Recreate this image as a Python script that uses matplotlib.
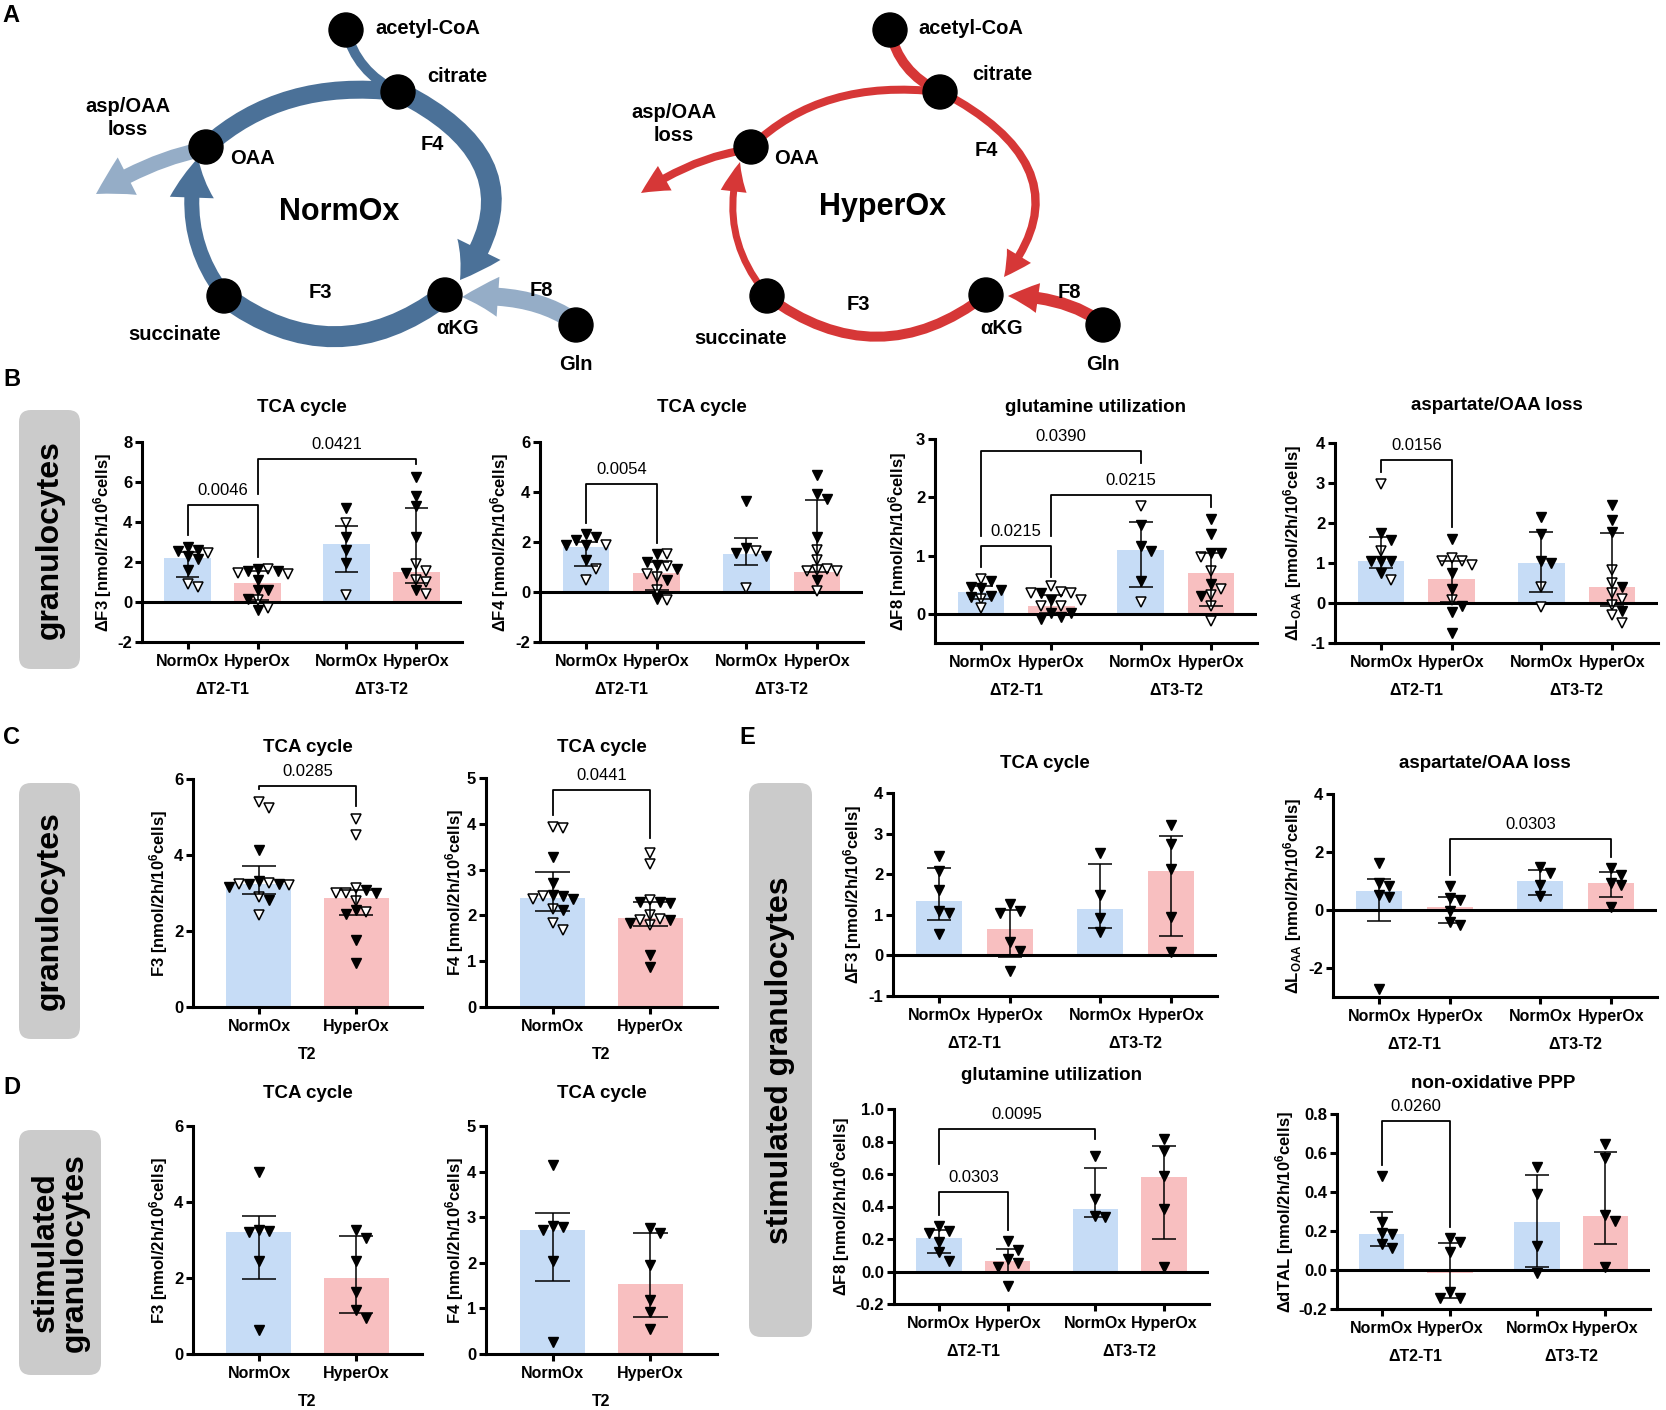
import matplotlib
matplotlib.use('Agg')
import matplotlib.pyplot as plt
from matplotlib.patches import FancyArrowPatch, PathPatch, Circle, FancyBboxPatch, ArrowStyle
from matplotlib.path import Path

plt.rcParams['font.family'] = ['Liberation Sans', 'DejaVu Sans']
plt.rcParams['mathtext.default'] = 'regular'

W, H = 1666, 1410
BLUE = '#c6dcf6'
PINK = '#f8bfc0'
STEEL = '#4b7198'
LIGHT = '#95adc7'
RED = '#d63737'

# ---------------- data ----------------
x4 = [0, 1, 2.27, 3.27]
x2 = [0, 1]
xlab4 = ['NormOx', 'HyperOx', 'NormOx', 'HyperOx']
xlab2 = ['NormOx', 'HyperOx']
grp4 = ['ΔT2-T1', 'ΔT3-T2']
grp2 = ['T2']

# B: granulocytes, differences
b1_bar = [2.2, 0.97, 2.92, 1.5]
b1_lo = [1.25, 0.1, 1.5, 0.95]
b1_hi = [2.5, 1.55, 3.78, 4.72]
b1_filled = [[2.6, 2.55, 2.75, 2.3, 2.15, 1.6], [1.67, 1.55, 1.55, 1.08, 0.6, 0.58, 0.17, -0.38],
             [4.7, 3.25, 2.6, 1.95], [6.25, 5.28, 4.78, 3.25, 1.45, 0.62]]
b1_open = [[2.45, 0.75, 0.92], [1.45, 1.42, 1.67, 0.12, -0.28], [3.95, 0.33], [1.88, 1.55, 1.12, 1.0, 0.42]]
b1_sig = [(0, 1, 4.83, 3.33, 2.25, '0.0046'), (1, 3, 7.17, 5.42, 6.92, '0.0421')]

b2_bar = [1.8, 0.76, 1.53, 0.8]
b2_lo = [1.03, 0.1, 1.07, 0.82]
b2_hi = [2.0, 1.2, 2.17, 3.69]
b2_filled = [[2.33, 2.2, 2.1, 1.9, 1.87, 1.27], [1.53, 1.2, 1.07, 0.93, 0.47, -0.27],
             [3.64, 1.77, 1.56, 1.43], [4.69, 3.93, 3.73, 2.2, 0.47]]
b2_open = [[1.9, 0.93, 0.5], [1.53, 1.03, 0.73, 0.6, 0.09, -0.33], [1.64, 0.16],
           [1.67, 1.27, 0.93, 0.84, 0.87, 0.84, 0.04]]
b2_sig = [(0, 1, 4.31, 2.76, 1.97, '0.0054')]

b3_bar = [0.38, 0.14, 1.1, 0.7]
b3_lo = [0.26, 0.02, 0.46, 0.13]
b3_hi = [0.47, 0.33, 1.57, 1.04]
b3_filled = [[0.56, 0.46, 0.44, 0.41, 0.3, 0.29], [0.35, 0.23, 0.01, 0.01, -0.06, -0.09],
             [1.52, 1.16, 1.07, 0.56], [1.63, 1.37, 1.05, 1.04, 0.52, 0.3]]
b3_open = [[0.6, 0.26, 0.1], [0.47, 0.38, 0.35, 0.35, 0.23, 0.14, 0.13], [1.85, 0.21],
           [0.98, 0.73, 0.42, 0.33, 0.14, -0.13]]
b3_sig = [(0, 1, 1.16, 0.81, 0.64, '0.0215'), (0, 2, 2.79, 1.33, 2.59, '0.0390'),
          (1, 3, 2.04, 1.33, 1.84, '0.0215')]

b4_bar = [1.05, 0.6, 1.0, 0.39]
b4_lo = [0.87, 0.02, 0.27, -0.08]
b4_hi = [1.66, 1.04, 1.78, 1.74]
b4_filled = [[1.74, 1.58, 1.04, 1.04, 1.04, 0.76], [1.59, 0.75, 0.35, -0.08, -0.23, -0.75],
             [2.16, 1.73, 1.05, 1.0], [2.46, 2.07, 1.78, 0.41, -0.21]]
b4_open = [[2.97, 1.29, 0.58], [1.12, 1.04, 1.04, 0.95, 0.07], [0.41, -0.11],
           [0.83, 0.51, 0.25, 0.1, -0.04, -0.29, -0.5]]
b4_sig = [(0, 1, 3.57, 3.28, 1.91, '0.0156')]

# C: granulocytes at T2
c1_bar = [3.23, 2.88]
c1_lo = [2.97, 2.42]
c1_hi = [3.72, 3.08]
c1_filled = [[4.13, 3.32, 3.25, 3.25, 3.17, 2.82], [3.08, 2.99, 2.55, 2.44, 1.76, 1.15]]
c1_open = [[5.4, 5.23, 3.27, 3.25, 3.21, 2.9, 2.42], [4.96, 4.53, 3.14, 3.01, 2.99, 2.8, 2.49]]
c1_sig = [(0, 1, 5.82, 5.73, 5.29, '0.0285')]

c2_bar = [2.39, 1.95]
c2_lo = [2.1, 1.77]
c2_hi = [2.94, 2.3]
c2_filled = [[3.28, 2.7, 2.44, 2.42, 2.35, 2.11], [2.3, 2.3, 2.27, 1.9, 1.84, 1.13, 0.88]]
c2_open = [[3.93, 3.91, 2.42, 2.35, 2.13, 1.84, 1.69], [3.36, 3.12, 2.33, 2.0, 1.93, 1.91, 1.79]]
c2_sig = [(0, 1, 4.73, 4.2, 3.68, '0.0441')]

# D: stimulated granulocytes at T2
d1_bar = [3.2, 2.0]
d1_lo = [1.97, 1.09]
d1_hi = [3.63, 3.1]
d1_filled = [[4.79, 3.26, 3.25, 3.22, 2.46, 0.62], [3.26, 3.06, 2.45, 1.62, 1.16, 0.96]]

d2_bar = [2.73, 1.54]
d2_lo = [1.59, 0.82]
d2_hi = [3.1, 2.66]
d2_filled = [[4.14, 2.81, 2.78, 2.73, 2.05, 0.26], [2.76, 2.65, 1.95, 1.19, 0.93, 0.55]]

# E: stimulated granulocytes, differences
e1_bar = [1.34, 0.65, 1.15, 2.09]
e1_lo = [0.88, -0.04, 0.68, 0.48]
e1_hi = [2.16, 1.11, 2.25, 2.94]
e1_filled = [[2.45, 2.08, 1.61, 1.1, 1.05, 0.52], [1.26, 1.1, 1.05, 0.33, 0.12, -0.39],
             [2.52, 1.49, 0.91, 0.58], [3.2, 2.74, 2.14, 0.95, 0.08]]

e2_bar = [0.67, 0.09, 1.0, 0.93]
e2_lo = [-0.37, -0.46, 0.53, 0.46]
e2_hi = [1.08, 0.46, 1.39, 1.3]
e2_filled = [[1.62, 0.92, 0.82, 0.53, 0.46, -2.71], [0.82, 0.42, 0.35, -0.02, -0.43, -0.52],
             [1.48, 1.29, 0.85, 0.5], [1.45, 1.19, 0.93, 0.85, 0.12]]
e2_sig = [(1, 3, 2.45, 1.19, 1.83, '0.0303')]

e3_bar = [0.205, 0.062, 0.384, 0.58]
e3_lo = [0.113, 0.0, 0.335, 0.2]
e3_hi = [0.253, 0.14, 0.64, 0.774]
e3_filled = [[0.28, 0.25, 0.24, 0.18, 0.12, 0.066], [0.185, 0.13, 0.075, 0.055, 0.027, -0.092],
             [0.71, 0.445, 0.343, 0.335], [0.815, 0.74, 0.585, 0.384, 0.027]]
e3_sig = [(0, 1, 0.487, 0.35, 0.253, '0.0303'), (0, 2, 0.879, 0.663, 0.817, '0.0095')]

e4_bar = [0.183, -0.014, 0.245, 0.278]
e4_lo = [0.123, -0.142, 0.014, 0.132]
e4_hi = [0.3, 0.14, 0.485, 0.603]
e4_filled = [[0.483, 0.245, 0.188, 0.185, 0.132, 0.111], [0.166, 0.142, 0.094, -0.115, -0.142, -0.146],
             [0.526, 0.389, 0.125, -0.017], [0.646, 0.574, 0.283, 0.252, 0.017]]
e4_sig = [(0, 1, 0.762, 0.54, 0.223, '0.0260')]

UNIT = ' [nmol/2h/10$^6$cells]'

# ---------------- figure ----------------
fig = plt.figure(figsize=(W / 100, H / 100), dpi=100)
ov = fig.add_axes([0, 0, 1, 1])
ov.set_xlim(0, W)
ov.set_ylim(0, H)
ov.axis('off')


def fy(y):
    return H - y


def txt(x, y, s, **kw):
    kw.setdefault('ha', 'center')
    kw.setdefault('va', 'center')
    ov.text(x, fy(y), s, **kw)


def swarm(ax, x0, fvals, ovals, step=10.0, hgt=9.0):
    pts = [(v, True) for v in fvals] + [(v, False) for v in ovals]
    pts.sort(key=lambda p: -p[0])
    ppu = ax.transData.transform((1, 0))[0] - ax.transData.transform((0, 0))[0]
    placed = []
    res = []
    for v, f in pts:
        yp = ax.transData.transform((x0, v))[1]
        for k in [0, 1, -1, 2, -2, 3, -3, 4, -4, 5, -5, 6, -6]:
            if all(abs(k - pk) >= 1 or abs(yp - py) >= hgt for pk, py in placed):
                break
        placed.append((k, yp))
        res.append((x0 + k * step / ppu, v, f))
    return res


def panel(box, ylim, yticks, yfmt, pos, xlabels, groups, bars, lo, hi, filled, opened, sig,
          title, title_xy, ylabel, ylabel_x, xlim, bw, cap):
    l, t, r, b = box
    ax = fig.add_axes([l / W, 1 - b / H, (r - l) / W, (b - t) / H])
    ax.patch.set_alpha(0)
    ax.set_xlim(*xlim)
    ax.set_ylim(*ylim)
    cols = [BLUE, PINK] * (len(pos) // 2)
    ax.bar(pos, bars, width=bw, color=cols, zorder=1)
    if ylim[0] < 0:
        ax.axhline(0, color='k', lw=2.2, zorder=2)
    for i, x0 in enumerate(pos):
        op = opened[i] if opened else []
        for x, v, f in swarm(ax, x0, filled[i], op):
            if f:
                ax.plot(x, v, 'v', ms=6.5, color='k', zorder=3)
            else:
                ax.plot(x, v, 'v', ms=6.5, mfc='white', mec='k', mew=1.1, zorder=3)
    ax.vlines(pos, lo, hi, color='k', lw=1.1, zorder=4)
    ax.hlines(lo, [p - cap for p in pos], [p + cap for p in pos], color='k', lw=1.1, zorder=4)
    ax.hlines(hi, [p - cap for p in pos], [p + cap for p in pos], color='k', lw=1.1, zorder=4)
    for i, j, yt, yl, yr, lab in sig:
        ax.plot([pos[i], pos[i], pos[j], pos[j]], [yl, yt, yt, yr], color='k', lw=1.3, zorder=5)
        ax.annotate(lab, xy=((pos[i] + pos[j]) / 2, yt), xytext=(0, 10.5), textcoords='offset points',
                    ha='center', va='center', fontsize=12)
    for s in ['top', 'right']:
        ax.spines[s].set_visible(False)
    for s in ['left', 'bottom']:
        ax.spines[s].set_linewidth(2.2)
    ax.set_yticks(yticks, [yfmt.format(v) for v in yticks])
    ax.set_xticks(pos, xlabels)
    ax.tick_params(axis='y', width=2.2, length=5, labelsize=12, pad=2)
    ax.tick_params(axis='x', width=2.2, length=5, labelsize=11.5, pad=3.5)
    for lab in ax.get_xticklabels() + ax.get_yticklabels():
        lab.set_fontweight('bold')
    npg = len(pos) // len(groups)
    for g, name in enumerate(groups):
        gx = (pos[g * npg] + pos[g * npg + npg - 1]) / 2
        ax.annotate(name, xy=(gx, 0), xycoords=('data', 'axes fraction'), xytext=(0, -34),
                    textcoords='offset points', ha='center', va='center', fontsize=11.5, fontweight='bold')
    tx = title_xy[0] if title_xy[0] is not None else (l + r) / 2
    txt(tx, title_xy[1], title, fontsize=13.5, fontweight='bold')
    txt(ylabel_x, (t + b) / 2, ylabel, rotation=90, fontsize=12, fontweight='bold')
    return ax


X4 = (-0.65, 3.92)
X2 = (-0.68, 1.68)

panel((142, 442, 462, 642), (-2, 8), [-2, 0, 2, 4, 6, 8], '{:g}', x4, xlab4, grp4,
      b1_bar, b1_lo, b1_hi, b1_filled, b1_open, b1_sig, 'TCA cycle', (None, 408), 'ΔF3' + UNIT, 103, X4, 0.66, 0.17)
panel((540, 442, 863, 642), (-2, 6), [-2, 0, 2, 4, 6], '{:g}', x4, xlab4, grp4,
      b2_bar, b2_lo, b2_hi, b2_filled, b2_open, b2_sig, 'TCA cycle', (None, 408), 'ΔF4' + UNIT, 500, X4, 0.66, 0.17)
panel((935, 439, 1257, 643), (-0.5, 3), [0, 1, 2, 3], '{:g}', x4, xlab4, grp4,
      b3_bar, b3_lo, b3_hi, b3_filled, b3_open, b3_sig, 'glutamine utilization', (None, 407), 'ΔF8' + UNIT, 898, X4, 0.66, 0.17)
panel((1335, 443, 1658, 643), (-1, 4), [-1, 0, 1, 2, 3, 4], '{:g}', x4, xlab4, grp4,
      b4_bar, b4_lo, b4_hi, b4_filled, b4_open, b4_sig, 'aspartate/OAA loss', (None, 405),
      'ΔL$_{OAA}$' + UNIT, 1293, X4, 0.66, 0.17)

panel((193, 779, 422, 1007), (0, 6), [0, 2, 4, 6], '{:g}', x2, xlab2, grp2,
      c1_bar, c1_lo, c1_hi, c1_filled, c1_open, c1_sig, 'TCA cycle', (None, 747), 'F3' + UNIT, 159, X2, 0.67, 0.18)
panel((486, 778, 717, 1007), (0, 5), [0, 1, 2, 3, 4, 5], '{:g}', x2, xlab2, grp2,
      c2_bar, c2_lo, c2_hi, c2_filled, c2_open, c2_sig, 'TCA cycle', (None, 747), 'F4' + UNIT, 455, X2, 0.67, 0.18)
panel((193, 1126, 422, 1354), (0, 6), [0, 2, 4, 6], '{:g}', x2, xlab2, grp2,
      d1_bar, d1_lo, d1_hi, d1_filled, None, [], 'TCA cycle', (None, 1093), 'F3' + UNIT, 159, X2, 0.67, 0.18)
panel((486, 1126, 717, 1354), (0, 5), [0, 1, 2, 3, 4, 5], '{:g}', x2, xlab2, grp2,
      d2_bar, d2_lo, d2_hi, d2_filled, None, [], 'TCA cycle', (None, 1093), 'F4' + UNIT, 455, X2, 0.67, 0.18)

panel((893, 793, 1217, 996), (-1, 4), [-1, 0, 1, 2, 3, 4], '{:g}', x4, xlab4, grp4,
      e1_bar, e1_lo, e1_hi, e1_filled, None, [], 'TCA cycle', (1045, 764), 'ΔF3' + UNIT, 853, X4, 0.66, 0.17)
panel((1333, 794, 1657, 997), (-3, 4), [-2, 0, 2, 4], '{:g}', x4, xlab4, grp4,
      e2_bar, e2_lo, e2_hi, e2_filled, None, e2_sig, 'aspartate/OAA loss', (1485, 764),
      'ΔL$_{OAA}$' + UNIT, 1293, X4, 0.66, 0.17)
panel((894, 1109, 1209, 1304), (-0.2, 1.0), [-0.2, 0, 0.2, 0.4, 0.6, 0.8, 1.0], '{:.1f}', x4, xlab4, grp4,
      e3_bar, e3_lo, e3_hi, e3_filled, None, e3_sig, 'glutamine utilization', (None, 1076), 'ΔF8' + UNIT, 841, X4, 0.66, 0.17)
panel((1337, 1114, 1650, 1309), (-0.2, 0.8), [-0.2, 0, 0.2, 0.4, 0.6, 0.8], '{:.1f}', x4, xlab4, grp4,
      e4_bar, e4_lo, e4_hi, e4_filled, None, e4_sig, 'non-oxidative PPP', (None, 1083), 'ΔdTAL' + UNIT, 1285, X4, 0.66, 0.17)

# ---------------- panel A: pathway sketches ----------------


def qpath(p0, c, p1):
    return Path([(p0[0], fy(p0[1])), (c[0], fy(c[1])), (p1[0], fy(p1[1]))],
                [Path.MOVETO, Path.CURVE3, Path.CURVE3])


def band(p0, c, p1, w, color):
    ov.add_patch(PathPatch(qpath(p0, c, p1), fill=False, lw=w * 0.72, edgecolor=color,
                           capstyle='butt', zorder=2))


def arrow(p0, c, p1, w, hw, hl, color):
    style = ArrowStyle.Simple(head_length=hl, head_width=hw, tail_width=w)
    ov.add_patch(FancyArrowPatch(path=qpath(p0, c, p1), arrowstyle=style, mutation_scale=0.72,
                                 color=color, lw=0, zorder=2))


# NormOx cycle
band((346, 30), (356, 72), (398, 92), 10, STEEL)
arrow((400, 92), (545, 165), (460, 280), 20, 48, 36, STEEL)
band((445, 295), (335, 378), (224, 296), 21, STEEL)
arrow((222, 292), (178, 232), (198, 158), 15, 44, 40, STEEL)
band((206, 147), (282, 78), (398, 92), 18, STEEL)
arrow((200, 150), (150, 160), (96, 194), 15, 42, 36, LIGHT)
arrow((572, 320), (530, 292), (462, 297), 18, 40, 36, LIGHT)

# HyperOx cycle
band((890, 30), (898, 72), (940, 92), 10, RED)
arrow((942, 92), (1090, 170), (1004, 277), 8, 28, 26, RED)
band((986, 295), (878, 378), (767, 296), 10, RED)
arrow((763, 290), (718, 232), (740, 162), 7, 26, 30, RED)
band((751, 147), (822, 78), (940, 92), 8, RED)
arrow((745, 150), (692, 158), (641, 193), 8, 28, 28, RED)
arrow((1098, 320), (1062, 296), (1008, 296), 12, 30, 30, RED)

norm_nodes = [(346, 30), (398, 92), (206, 147), (445, 295), (224, 296), (576, 325)]
hyper_nodes = [(890, 30), (940, 92), (751, 147), (986, 295), (767, 296), (1103, 325)]
for (x, y) in norm_nodes + hyper_nodes:
    ov.add_patch(Circle((x, fy(y)), 17, color='k', zorder=4))

norm_labels = [('acetyl-CoA', 428, 29), ('citrate', 457, 76), ('OAA', 253, 158), ('αKG', 458, 328),
               ('succinate', 175, 334), ('Gln', 576, 365), ('F4', 432, 145), ('F3', 320, 293),
               ('F8', 541, 290), ('asp/OAA\nloss', 128, 118)]
hyper_labels = [('acetyl-CoA', 971, 29), ('citrate', 1002, 75), ('OAA', 797, 158), ('αKG', 1002, 328),
                ('succinate', 741, 338), ('Gln', 1103, 365), ('F4', 986, 150), ('F3', 858, 305),
                ('F8', 1069, 293), ('asp/OAA\nloss', 674, 124)]
for s, x, y in norm_labels + hyper_labels:
    txt(x, y, s, fontsize=14.5, fontweight='bold', linespacing=1.25)
txt(339, 212, 'NormOx', fontsize=22, fontweight='bold')
txt(883, 207, 'HyperOx', fontsize=22, fontweight='bold')

# ---------------- gray side labels and panel letters ----------------
side_boxes = [((19, 410, 80, 669), 'granulocytes'), ((19, 783, 80, 1039), 'granulocytes'),
              ((19, 1130, 101, 1375), 'stimulated\ngranulocytes'),
              ((749, 783, 812, 1337), 'stimulated granulocytes')]
for (l, t, r, b), s in side_boxes:
    ov.add_patch(FancyBboxPatch((l, fy(b)), r - l, b - t, boxstyle='round,pad=0,rounding_size=12',
                                color='#cbcbcb', lw=0, zorder=0))
    txt((l + r) / 2, (t + b) / 2, s, rotation=90, fontsize=23, fontweight='bold', linespacing=0.95)

for s, x, y in [('A', 11, 16), ('B', 12, 380), ('C', 12, 737), ('D', 12, 1087), ('E', 747, 737)]:
    txt(x, y, s, fontsize=17, fontweight='bold')

fig.savefig('out.png', dpi=100)
